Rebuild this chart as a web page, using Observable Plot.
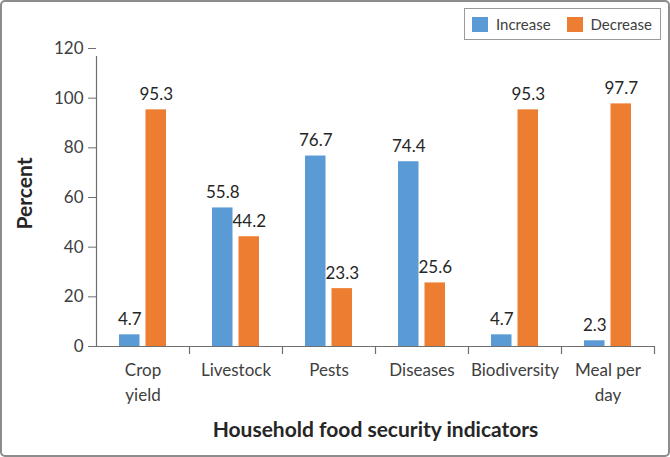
<!DOCTYPE html>
<html>
<head>
<meta charset="utf-8">
<script src="https://cdn.jsdelivr.net/npm/d3@7"></script>
<script src="https://cdn.jsdelivr.net/npm/@observablehq/plot@0.6"></script>
<style>
  html, body { margin: 0; padding: 0; background: #fff; }
  #wrap { position: relative; width: 670px; height: 457px; font-family: Lato, "Open Sans", sans-serif; }
  #border { position: absolute; left: 0; top: 0; width: 670px; height: 457px; box-sizing: border-box;
            border: 2px solid #8c8c8c; border-radius: 5px; pointer-events: none; }
  #legend { position: absolute; left: 464px; top: 8px; width: 197px; height: 32px; box-sizing: border-box;
            border: 1px solid #9a9a9a; background: #fff; display: flex; align-items: center;
            font-size: 15px; color: #404040; }
  .item { display: flex; align-items: center; }
  .sw { width: 16px; height: 15px; display: inline-block; margin-right: 8px; }
</style>
</head>
<body>
<div id="wrap"><div id="chart"></div><div id="legend"></div><div id="border"></div></div>
<script>
const categories = ["Crop\nyield", "Livestock", "Pests", "Diseases", "Biodiversity", "Meal per\nday"];
const increase = [4.7, 55.8, 76.7, 74.4, 4.7, 2.3];
const decrease = [95.3, 44.2, 23.3, 25.6, 95.3, 97.7];
const seriesNames = ["Increase", "Decrease"];
const seriesColors = ["#5b9bd5", "#ed7d31"];
const yTicks = [0, 20, 40, 60, 80, 100, 120];
const xTitle = "Household food security indicators";
const yTitle = "Percent";

const incData = categories.map((c, i) => ({cat: c, value: increase[i]}));
const decData = categories.map((c, i) => ({cat: c, value: decrease[i]}));

const W = 670, H = 457, ML = 96, MR = 16, MT = 48, MB = 111;
const bw = (W - ML - MR) / categories.length;
const barW = 20.5, gap = 6;
const side = (bw - 2 * barW - gap) / 2;
const fmt = d => d.toFixed(1);

const chart = Plot.plot({
  width: W, height: H,
  marginLeft: ML, marginRight: MR, marginTop: MT, marginBottom: MB,
  style: {fontFamily: "Lato, 'Open Sans', sans-serif", fontSize: "17px", color: "#404040", background: "transparent"},
  x: {domain: categories, padding: 0},
  y: {domain: [0, 120]},
  marks: [
    Plot.barY(incData, {x: "cat", y: "value", fill: seriesColors[0], insetLeft: side, insetRight: side + barW + gap}),
    Plot.barY(decData, {x: "cat", y: "value", fill: seriesColors[1], insetLeft: side + barW + gap, insetRight: side}),
    Plot.text(incData, {x: "cat", y: "value", text: d => fmt(d.value), dx: -(gap + barW) / 2, dy: -10, lineAnchor: "bottom", fill: "#262626", fontSize: 17}),
    Plot.text(decData, {x: "cat", y: "value", text: d => fmt(d.value), dx: (gap + barW) / 2, dy: -10, lineAnchor: "bottom", fill: "#262626", fontSize: 17}),
    Plot.ruleY([0], {stroke: "#6f6f6f", strokeWidth: 1.2}),
    Plot.ruleX([categories[0]], {dx: -bw / 2, y1: 0, y2: 120, insetBottom: -8, stroke: "#6f6f6f", strokeWidth: 1.2}),
    Plot.ruleX(categories, {dx: bw / 2, y1: 0, y2: 0, insetBottom: -8, stroke: "#6f6f6f", strokeWidth: 1.2}),
    Plot.axisY({ticks: yTicks, tickSize: 8, tickPadding: 5, label: null, stroke: "#6f6f6f", color: "#404040", fontSize: 17, tickFormat: d => d}),
    Plot.axisX({tickSize: 0, tickPadding: 12, label: null, lineHeight: 1.45, fontSize: 17, fill: "#404040"}),
    Plot.text([xTitle], {frameAnchor: "bottom", dy: 90, textAnchor: "middle", fontWeight: "bold", fontSize: 21, fill: "#262626"}),
    Plot.text([yTitle], {frameAnchor: "left", dx: -71, dy: -4, textAnchor: "middle", rotate: -90, fontWeight: "bold", fontSize: 21, fill: "#262626"})
  ]
});
document.getElementById("chart").appendChild(chart);

const legend = document.getElementById("legend");
seriesNames.forEach((n, i) => {
  const it = document.createElement("div");
  it.className = "item";
  it.style.marginLeft = i === 0 ? "7px" : "16px";
  const sw = document.createElement("span");
  sw.className = "sw";
  sw.style.background = seriesColors[i];
  it.appendChild(sw);
  const t = document.createElement("span");
  t.textContent = n;
  it.appendChild(t);
  legend.appendChild(it);
});
</script>
</body>
</html>
